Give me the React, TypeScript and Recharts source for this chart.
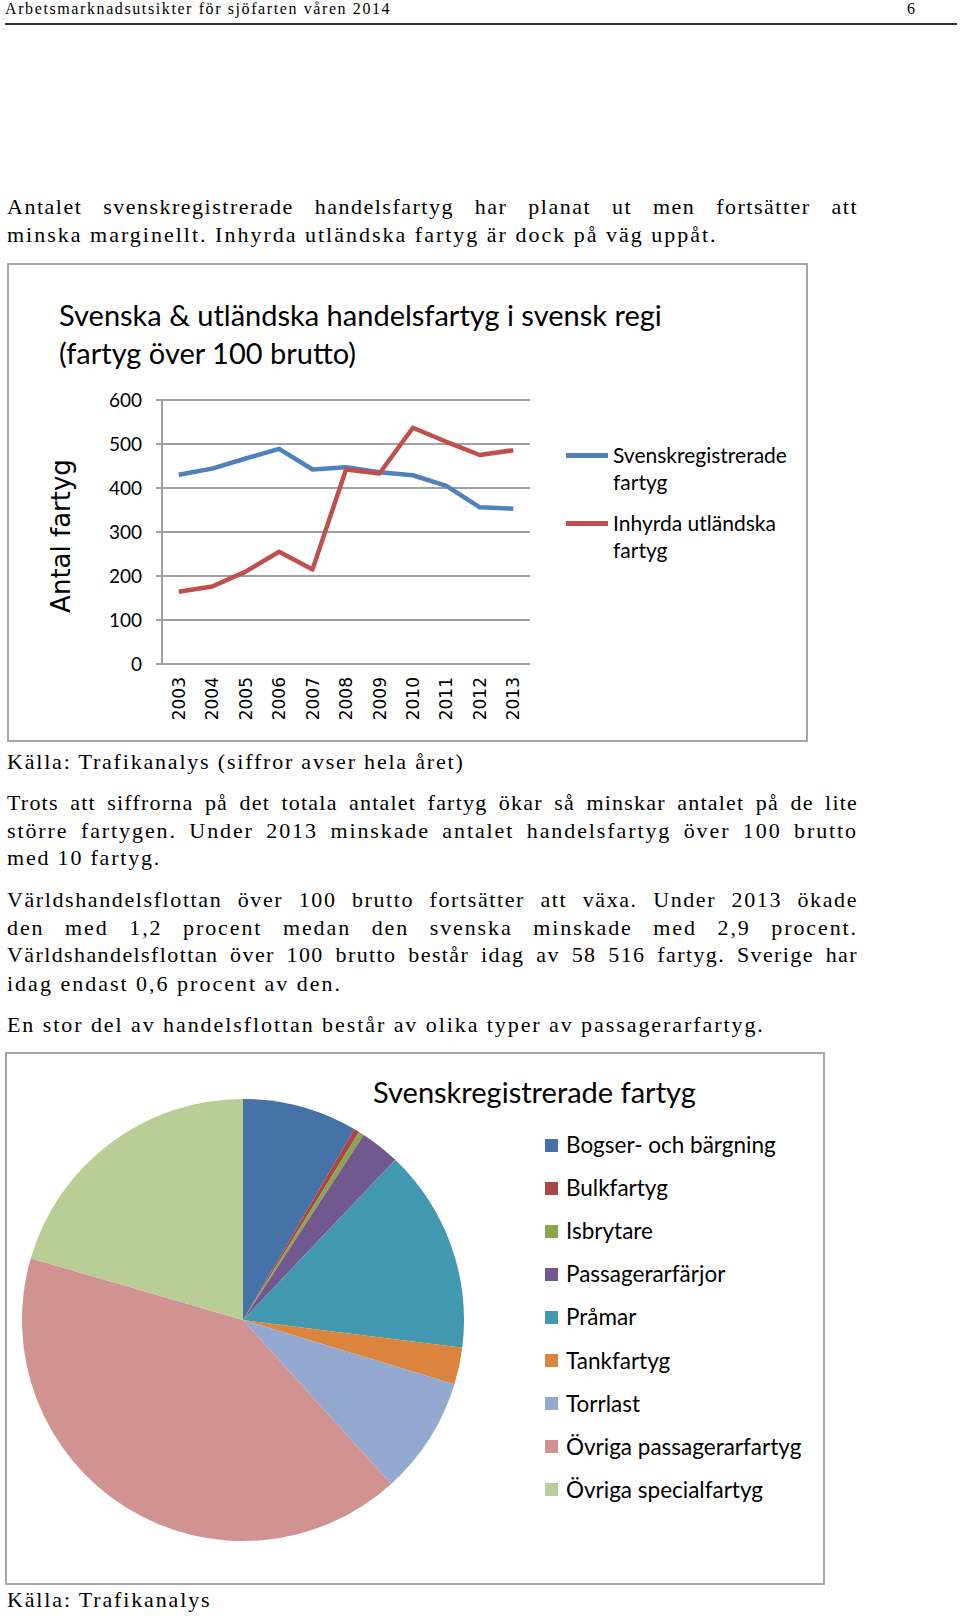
import React from 'react'
import { LineChart, Line, XAxis, YAxis, CartesianGrid, PieChart, Pie, Cell } from 'recharts'

const YEARS = [2003, 2004, 2005, 2006, 2007, 2008, 2009, 2010, 2011, 2012, 2013]
const SVENSK = [430, 444, 467, 489, 442, 447, 436, 429, 405, 356, 353]
const INHYRDA = [164, 176, 210, 255, 215, 442, 433, 537, 505, 475, 486]
const Y_TICKS = [0, 100, 200, 300, 400, 500, 600]

const PIE_LABELS = [
  'Bogser- och bärgning',
  'Bulkfartyg',
  'Isbrytare',
  'Passagerarfärjor',
  'Pråmar',
  'Tankfartyg',
  'Torrlast',
  'Övriga passagerarfartyg',
  'Övriga specialfartyg',
]
const PIE_VALUES = [8.4, 0.4, 0.4, 2.9, 14.9, 2.7, 8.6, 41.2, 20.5]
const PIE_COLORS = ['#4572a7', '#aa4643', '#89a54e', '#71588f', '#4198af', '#db843d', '#93a9cf', '#d19392', '#b9cd96']

const lineData = YEARS.map((year, i) => ({ year, svensk: SVENSK[i], inhyrda: INHYRDA[i] }))
const edgeTicks = [...YEARS.map((y) => y - 0.5), YEARS[YEARS.length - 1] + 0.5]
const pieData = PIE_LABELS.map((name, i) => ({ name, value: PIE_VALUES[i] }))

const SANS = 'Lato, "Open Sans", sans-serif'
const SERIF = '"Liberation Serif", "Times New Roman", serif'
const GRID = '#a0a0a0'
const BORDER = '#a6a6a6'

function YearTick({ x, y, payload }: any) {
  return (
    <text
      x={x}
      y={y}
      dy="0.36em"
      textAnchor="end"
      transform={`rotate(-90, ${x}, ${y})`}
      fontFamily='"DejaVu Sans", Verdana, sans-serif'
      fontSize={17}
      fill="#000"
    >
      {payload.value}
    </text>
  )
}

// one line of body text; justified lines are stretched to the text column
function TextLine({ top, text, justify, spacing = 1.9 }: any) {
  return (
    <div
      style={{
        position: 'absolute',
        left: 7,
        top,
        width: justify ? 851 : undefined,
        whiteSpace: 'nowrap',
        fontFamily: SERIF,
        fontSize: 22,
        lineHeight: '28px',
        letterSpacing: spacing,
        textAlign: justify ? 'justify' : 'left',
        textAlignLast: justify ? 'justify' : 'auto',
        color: '#000',
      }}
    >
      {text}
    </div>
  )
}

export default function App() {
  return (
    <div style={{ position: 'absolute', left: 0, top: 0, width: 960, height: 1616, background: '#fff', overflow: 'hidden' }}>
      {/* header */}
      <div style={{ position: 'absolute', left: 5, top: 0, fontFamily: SERIF, fontSize: 16, lineHeight: '17px', letterSpacing: 1.6 }}>
        Arbetsmarknadsutsikter för sjöfarten våren 2014
      </div>
      <div style={{ position: 'absolute', left: 907, top: 0, fontFamily: SERIF, fontSize: 16, lineHeight: '17px' }}>6</div>
      <div style={{ position: 'absolute', left: 5, top: 23, width: 952, height: 2, background: '#333' }} />

      <TextLine top={193} justify spacing={1.5} text="Antalet svenskregistrerade handelsfartyg har planat ut men fortsätter att" />
      <TextLine top={221} spacing={2.0} text="minska marginellt. Inhyrda utländska fartyg är dock på väg uppåt." />

      {/* line chart */}
      <div style={{ position: 'absolute', left: 7, top: 263, width: 801, height: 479, border: `2px solid ${BORDER}`, boxSizing: 'border-box' }} />
      <div style={{ position: 'absolute', left: 59, top: 296, fontFamily: SANS, fontSize: 29, lineHeight: '38px', color: '#000' }}>
        Svenska &amp; utländska handelsfartyg i svensk regi
        <br />
        (fartyg över 100 brutto)
      </div>
      <div
        style={{
          position: 'absolute',
          left: 61,
          top: 536,
          transform: 'translate(-50%, -50%) rotate(-90deg)',
          whiteSpace: 'nowrap',
          fontFamily: '"DejaVu Sans", Verdana, sans-serif',
          fontSize: 26,
        }}
      >
        Antal fartyg
      </div>
      <div style={{ position: 'absolute', left: 7, top: 263 }}>
        <LineChart width={801} height={479} data={lineData} margin={{ top: 137, right: 278, bottom: 18, left: 115 }}>
          <CartesianGrid vertical={false} stroke={GRID} strokeWidth={2} />
          <XAxis
            xAxisId="edges"
            dataKey="year"
            type="number"
            domain={[2002.5, 2013.5]}
            ticks={edgeTicks}
            tick={false}
            height={0}
            tickSize={6}
            axisLine={{ stroke: GRID, strokeWidth: 2 }}
            tickLine={{ stroke: GRID, strokeWidth: 2 }}
          />
          <XAxis
            dataKey="year"
            type="number"
            domain={[2002.5, 2013.5]}
            ticks={YEARS}
            interval={0}
            height={60}
            tickSize={0}
            tickMargin={13}
            axisLine={false}
            tickLine={false}
            tick={<YearTick />}
          />
          <YAxis
            domain={[0, 600]}
            ticks={Y_TICKS}
            width={40}
            tickSize={6}
            tickMargin={14}
            axisLine={{ stroke: GRID, strokeWidth: 2 }}
            tickLine={{ stroke: GRID, strokeWidth: 2 }}
            tick={{ fill: '#000', fontSize: 19, fontFamily: SANS }}
          />
          <Line dataKey="svensk" stroke="#4f81bd" strokeWidth={4.5} strokeLinejoin="round" dot={false} isAnimationActive={false} />
          <Line dataKey="inhyrda" stroke="#c0504d" strokeWidth={4.5} strokeLinejoin="round" dot={false} isAnimationActive={false} />
        </LineChart>
      </div>
      {[
        { color: '#4f81bd', lines: ['Svenskregistrerade', 'fartyg'], y: 455 },
        { color: '#c0504d', lines: ['Inhyrda utländska', 'fartyg'], y: 523 },
      ].map((l) => (
        <React.Fragment key={l.color}>
          <div style={{ position: 'absolute', left: 566, top: l.y - 2.5, width: 42, height: 5, background: l.color }} />
          <div style={{ position: 'absolute', left: 613, top: l.y - 14, fontFamily: SANS, fontSize: 21, lineHeight: '27px' }}>
            {l.lines[0]}
            <br />
            {l.lines[1]}
          </div>
        </React.Fragment>
      ))}

      <TextLine top={748} spacing={1.8} text="Källa: Trafikanalys (siffror avser hela året)" />
      <TextLine top={789} justify spacing={1.2} text="Trots att siffrorna på det totala antalet fartyg ökar så minskar antalet på de lite" />
      <TextLine top={817} justify text="större fartygen. Under 2013 minskade antalet handelsfartyg över 100 brutto" />
      <TextLine top={844} spacing={1.8} text="med 10 fartyg." />
      <TextLine top={886} justify spacing={1.6} text="Världshandelsflottan över 100 brutto fortsätter att växa. Under 2013 ökade" />
      <TextLine top={914} justify text="den med 1,2 procent medan den svenska minskade med 2,9 procent." />
      <TextLine top={941} justify spacing={1.4} text="Världshandelsflottan över 100 brutto består idag av 58 516 fartyg. Sverige har" />
      <TextLine top={970} spacing={2.0} text="idag endast 0,6 procent av den." />
      <TextLine top={1011} spacing={1.93} text="En stor del av handelsflottan består av olika typer av passagerarfartyg." />

      {/* pie chart */}
      <div style={{ position: 'absolute', left: 5, top: 1052, width: 820, height: 533, border: `2px solid ${BORDER}`, boxSizing: 'border-box' }} />
      <div style={{ position: 'absolute', left: 373, top: 1073, fontFamily: SANS, fontSize: 29, lineHeight: '38px' }}>
        Svenskregistrerade fartyg
      </div>
      <div style={{ position: 'absolute', left: 5, top: 1052 }}>
        <PieChart width={820} height={533} margin={{ top: 0, right: 0, bottom: 0, left: 0 }}>
          <Pie
            data={pieData}
            dataKey="value"
            nameKey="name"
            cx={238}
            cy={268}
            outerRadius={221}
            startAngle={90}
            endAngle={-270}
            stroke="none"
            isAnimationActive={false}
          >
            {pieData.map((d, i) => (
              <Cell key={d.name} fill={PIE_COLORS[i]} />
            ))}
          </Pie>
        </PieChart>
      </div>
      {PIE_LABELS.map((name, i) => (
        <React.Fragment key={name}>
          <div style={{ position: 'absolute', left: 545, top: 1145 + i * 43.1 - 6.5, width: 13, height: 13, background: PIE_COLORS[i] }} />
          <div style={{ position: 'absolute', left: 566, top: 1145 + i * 43.1 - 14, fontFamily: SANS, fontSize: 22.5, lineHeight: '28px' }}>
            {name}
          </div>
        </React.Fragment>
      ))}

      <div style={{ position: 'absolute', left: 7, top: 1586, fontFamily: SERIF, fontSize: 22, lineHeight: '28px', letterSpacing: 1.85 }}>
        Källa: Trafikanalys
      </div>
    </div>
  )
}
